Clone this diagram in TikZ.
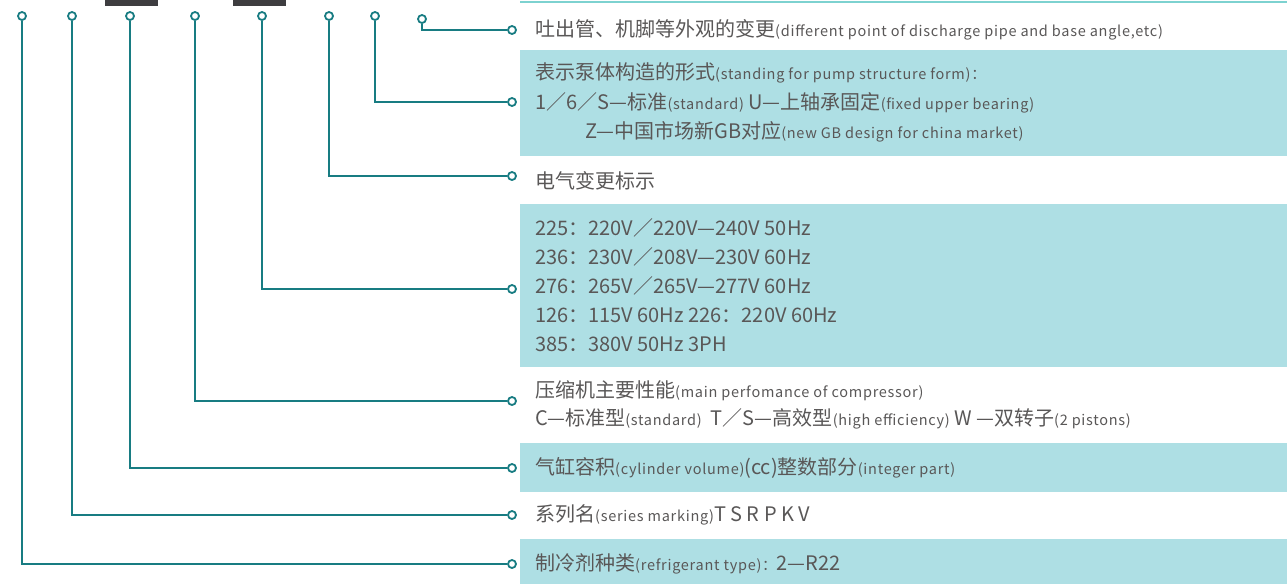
\documentclass[tikz,border=0pt]{standalone}
\usepackage{fontspec}
\newfontfamily\cjk{Noto Sans CJK SC}
\newfontfamily\cjksm[LetterSpace=5]{Noto Sans CJK SC}
\usepackage{tikz}
\definecolor{linecol}{RGB}{24,124,130}
\definecolor{bandcol}{RGB}{174,223,228}
\definecolor{rulecol}{RGB}{125,210,208}
\definecolor{txtcol}{RGB}{89,87,87}
\definecolor{capcol}{RGB}{62,61,64}
\newcommand{\eng}[1]{{\cjksm\fontsize{14.5}{20}\selectfont #1}}

\begin{document}
\begin{tikzpicture}[x=1pt,y=-1pt,
    pin/.style={circle,draw=linecol,line width=1.8pt,fill=white,inner sep=0pt,minimum size=8pt},
    lead/.style={draw=linecol,line width=1.8pt},
    lbl/.style={anchor=west,text=txtcol,inner sep=0pt,align=left,font=\cjk\fontsize{20}{29.5}\selectfont}]
\useasboundingbox (0,0) rectangle (1287,584);

% bands and top marks
\fill[bandcol] (520,50)  rectangle (1287,156);
\fill[bandcol] (520,204) rectangle (1287,367);
\fill[bandcol] (520,443) rectangle (1287,492);
\fill[bandcol] (520,539) rectangle (1287,584);
\draw[rulecol,line width=2pt] (520,2) -- (1287,2);
\fill[capcol] (105,0) rectangle (158,5.5);
\fill[capcol] (233,0) rectangle (286,5.5);

% pins and leads
\foreach \n/\x/\ty/\y in {a/422/19/30, b/375/16/102, c/329/16/176, d/262/16/289,
                          e/195/16/401, f/130/16/468, g/72/16/515, h/22/16/564}{
  \node[pin] (t\n) at (\x,\ty) {};
  \node[pin] (r\n) at (512,\y) {};
  \draw[lead] (t\n) |- (r\n);
}

% labels
\node[lbl] (la) at (535,30) {吐出管、机脚等外观的变更\eng{(different point of discharge pipe and base angle,etc)}};
\node[lbl] (lb) at (535,102.5) {表示泵体构造的形式\eng{(standing for pump structure form)：}\\
  1／6／S—标准\eng{(standard)} U—上轴承固定\eng{(fixed upper bearing)}\\
  \hspace*{50pt}Z—中国市场新GB对应\eng{(new GB design for china market)}};
\node[lbl] (lc) at (535,181) {电气变更标示};
\node[lbl,font=\cjk\fontsize{20}{29}\selectfont] (ld) at (535,285) {225：220V／220V—240V 50Hz\\
  236：230V／208V—230V 60Hz\\
  276：265V／265V—277V 60Hz\\
  126：115V 60Hz 226：220V 60Hz\\
  385：380V 50Hz 3PH};
\node[lbl,font=\cjk\fontsize{20}{28}\selectfont] (le) at (535,405) {压缩机主要性能\eng{(main perfomance of compressor)}\\
  C—标准型\eng{(standard)}\ \ T／S—高效型\eng{(high efficiency)} W —双转子\eng{(2 pistons)}};
\node[lbl] (lf) at (535,468) {气缸容积\eng{(cylinder volume)}(cc)整数部分\eng{(integer part)}};
\node[lbl] (lg) at (535,515) {系列名\eng{(series marking)}T S R P K V};
\node[lbl] (lh) at (535,564) {制冷剂种类\eng{(refrigerant type)：}2—R22};
\end{tikzpicture}
\end{document}
